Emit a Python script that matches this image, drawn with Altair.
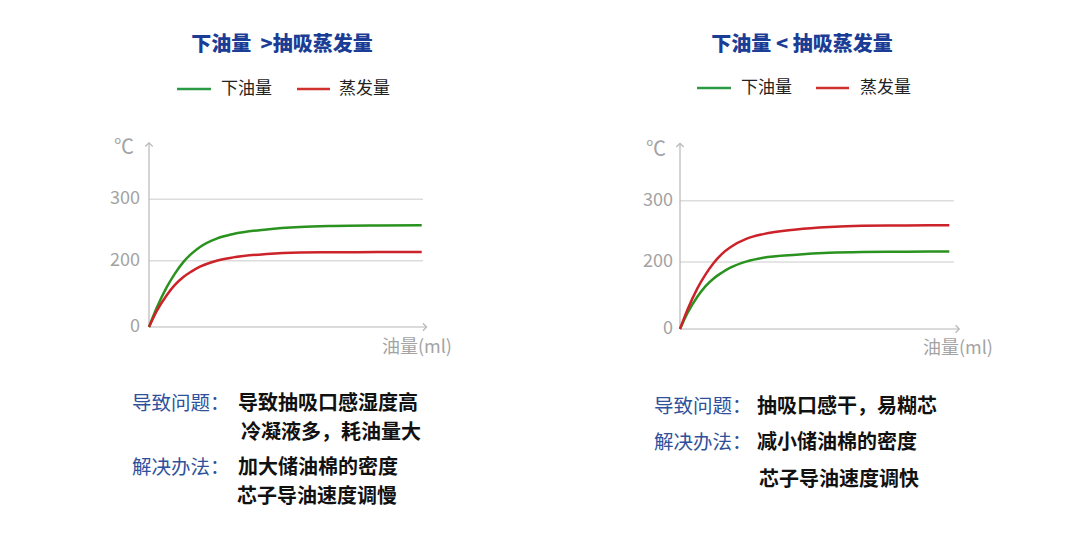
import altair as alt
import pandas as pd

# ---- data ----
x_ml = [0, 0.28, 0.65, 0.95, 1.25, 1.55, 1.87, 2.48, 3.09, 4.32, 5.54, 6.76, 8.4, 10]
left_oil = [0, 57, 120, 161, 195, 211, 222.3, 235.9, 243.5, 251, 254.9, 256.5, 257.3, 257.6]
left_evap = [0, 48, 96, 127, 150, 167, 182, 200, 205.4, 210.9, 213.3, 213.8, 214, 214.1]
right_oil = [0, 48, 97, 128, 151, 168, 183, 201, 207, 212, 215, 216.3, 216.8, 217]
right_evap = [0, 58, 122, 163, 197, 213, 224, 238, 245.5, 253, 257, 259, 259.6, 260]

series_names = ["下油量", "蒸发量"]
y_ticks = [0, 200, 300]
grid_values = [200, 300]
unit_label = "℃"
x_label = "油量(ml)"
titles = ["下油量\u00a0\u00a0>抽吸蒸发量", "下油量 < 抽吸蒸发量"]
problem_label = "导致问题："
solution_label = "解决办法："
left_problem = ["导致抽吸口感湿度高", "冷凝液多，耗油量大"]
left_solution = ["加大储油棉的密度", "芯子导油速度调慢"]
right_problem = ["抽吸口感干，易糊芯"]
right_solution = ["减小储油棉的密度", "芯子导油速度调快"]

# ---- styles ----
FONT = "Noto Sans CJK SC"
GREEN = "#2a921f"
RED = "#cc2229"
LEG_GREEN = "#2b9a45"
LEG_RED = "#d0312d"
TITLE_BLUE = "#1b3d95"
LABEL_BLUE = "#2f519c"
AXIS_GRAY = "#b8b8b8"
GRID_GRAY = "#dcdcdc"
TICK_GRAY = "#a3a3a3"


def text_layer(text, x, y, size, color, weight="normal", align="left"):
    return alt.Chart(pd.DataFrame({"t": [text]})).mark_text(
        align=align, baseline="middle", fontSize=size, color=color,
        fontWeight=weight, font=FONT
    ).encode(x=alt.value(x), y=alt.value(y), text="t:N")


def panel(oil, evap, title, problem, solution, g):
    xs = alt.Scale(domain=[0, 10], range=g["x_range"], nice=False, zero=False)
    ys = alt.Scale(domain=[0, 200, 300], range=g["y_range"], nice=False, zero=False)

    df = pd.DataFrame({
        "x": x_ml * 2,
        "v": oil + evap,
        "s": [series_names[0]] * len(x_ml) + [series_names[1]] * len(x_ml),
    })

    grid = alt.Chart(pd.DataFrame({"g": grid_values})).mark_rule(
        color=GRID_GRAY, strokeWidth=1.5
    ).encode(
        x=alt.X(datum=0, scale=xs, axis=None),
        x2=alt.datum(g["grid_end"]),
        y=alt.Y("g:Q", scale=ys, axis=None),
    )

    yaxis = alt.Chart(pd.DataFrame({"a": [0]})).mark_rule(
        color=AXIS_GRAY, strokeWidth=1.2
    ).encode(
        x=alt.X(datum=0, scale=xs, axis=None),
        y=alt.Y(datum=0, scale=ys, axis=None),
        y2=alt.datum(g["y_top"]),
    )
    xaxis = alt.Chart(pd.DataFrame({"a": [0]})).mark_rule(
        color=AXIS_GRAY, strokeWidth=1.2
    ).encode(
        x=alt.X(datum=0, scale=xs, axis=None),
        x2=alt.datum(g["x_end"]),
        y=alt.Y(datum=0, scale=ys, axis=None),
    )
    yarrow = alt.Chart(pd.DataFrame({"a": [0]})).mark_point(
        shape="M -1 1 L 0 0 L 1 1", filled=False, size=55,
        color=AXIS_GRAY, strokeWidth=1.2, opacity=1
    ).encode(
        x=alt.X(datum=0, scale=xs, axis=None),
        y=alt.Y(datum=g["y_top"], scale=ys, axis=None),
    )
    xarrow = alt.Chart(pd.DataFrame({"a": [0]})).mark_point(
        shape="M -1 -1 L 0 0 L -1 1", filled=False, size=55,
        color=AXIS_GRAY, strokeWidth=1.2, opacity=1
    ).encode(
        x=alt.X(datum=g["x_end"], scale=xs, axis=None),
        y=alt.Y(datum=0, scale=ys, axis=None),
    )

    ticks = alt.Chart(pd.DataFrame({"t": y_ticks})).mark_text(
        align="right", baseline="middle", fontSize=18, color=TICK_GRAY,
        font=FONT, dx=g["tick_dx"]
    ).encode(
        x=alt.X(datum=0, scale=xs, axis=None),
        y=alt.Y("t:Q", scale=ys, axis=None),
        text="t:Q",
    )

    lines = alt.Chart(df).mark_line(
        interpolate="monotone", strokeWidth=2.5
    ).encode(
        x=alt.X("x:Q", scale=xs, axis=None),
        y=alt.Y("v:Q", scale=ys, axis=None),
        color=alt.Color("s:N", scale=alt.Scale(domain=series_names, range=[GREEN, RED]), legend=None),
        order=alt.Order("x:Q"),
    )

    leg = g["legend"]
    legend_layers = []
    for name, col, (x0, x1, tx) in zip(series_names, [LEG_GREEN, LEG_RED], leg["items"]):
        legend_layers.append(
            alt.Chart(pd.DataFrame({"n": [name]})).mark_rule(color=col, strokeWidth=2.5).encode(
                x=alt.value(x0), x2=alt.value(x1), y=alt.value(leg["y"])
            )
        )
        legend_layers.append(text_layer(name, tx, leg["y"], 17, "#222222"))

    annotations = [
        text_layer(title, g["title"][0], g["title"][1], 20, TITLE_BLUE, weight=900, align="center"),
        text_layer(unit_label, g["unit"][0], g["unit"][1], 20, TICK_GRAY, align="right"),
        text_layer(x_label, g["xlab"][0], g["xlab"][1], 18, TICK_GRAY),
        text_layer(problem_label, g["label_x"], g["problem_y"][0], 19.5, LABEL_BLUE),
        text_layer(solution_label, g["label_x"], g["solution_y"][0], 19.5, LABEL_BLUE),
    ]
    for txt, px, py in zip(problem, g["problem_x"], g["problem_y"]):
        annotations.append(text_layer(txt, px, py, 20, "#111111", weight="bold"))
    for txt, px, py in zip(solution, g["solution_x"], g["solution_y"]):
        annotations.append(text_layer(txt, px, py, 20, "#111111", weight="bold"))

    return alt.layer(
        grid, yaxis, xaxis, yarrow, xarrow, ticks, lines, *legend_layers, *annotations
    ).properties(width=540, height=546)


left_geo = {
    "x_range": [149, 421.7], "y_range": [327, 260.7, 199.3],
    "grid_end": 10.05, "x_end": 10.18, "y_top": 392, "tick_dx": -9,
    "unit": (134, 148), "xlab": (382, 348), "title": (282, 45),
    "legend": {"y": 89, "items": [(177, 211, 221), (297, 330, 339)]},
    "label_x": 132,
    "problem_x": [238, 241], "problem_y": [404, 433],
    "solution_x": [238, 237], "solution_y": [468, 497],
}
right_geo = {
    "x_range": [140, 409.3], "y_range": [329, 262, 200.7],
    "grid_end": 10.17, "x_end": 10.37, "y_top": 393.6, "tick_dx": -7,
    "unit": (126, 150), "xlab": (383, 349), "title": (262, 45),
    "legend": {"y": 88, "items": [(157, 191, 201), (276, 309, 320)]},
    "label_x": 114,
    "problem_x": [217], "problem_y": [407],
    "solution_x": [217, 219], "solution_y": [443, 480],
}

left = panel(left_oil, left_evap, titles[0], left_problem, left_solution, left_geo)
right = panel(right_oil, right_evap, titles[1], right_problem, right_solution, right_geo)

chart = alt.hconcat(left, right, spacing=0).properties(
    padding=0, background="white"
).configure_view(stroke=None).configure_concat(spacing=0)

chart.save("out.html", embed_options={"renderer": "svg", "actions": False})
